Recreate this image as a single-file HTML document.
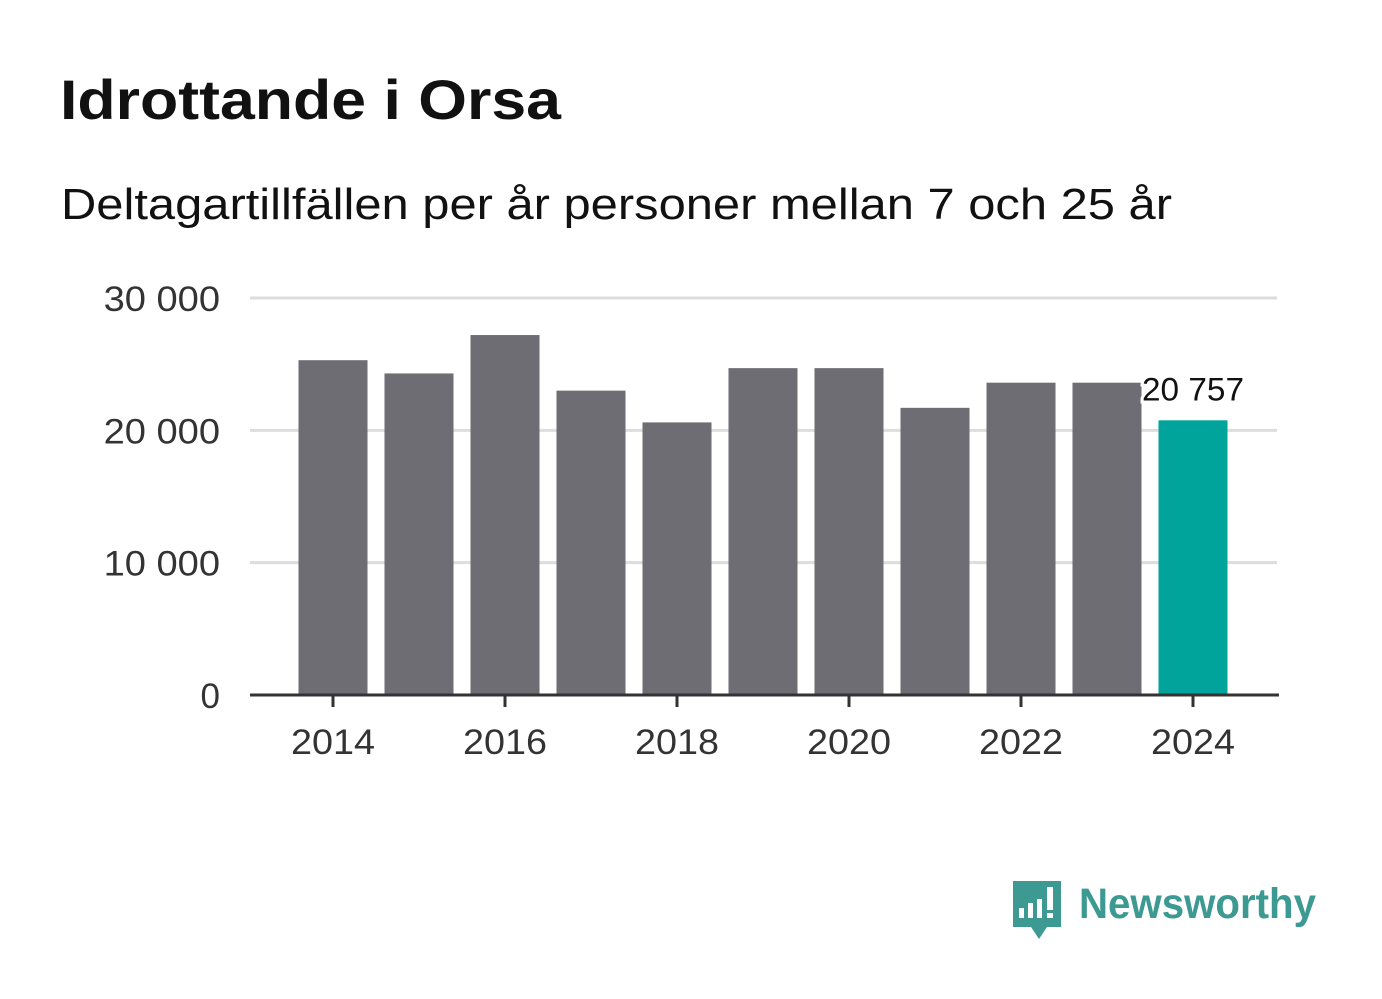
<!DOCTYPE html>
<html><head><meta charset="utf-8"><style>
body{margin:0;width:1382px;height:999px;background:#fff;overflow:hidden;font-family:"Liberation Sans","DejaVu Sans",sans-serif}
svg{position:absolute;left:0;top:0}
</style></head><body>
<svg id="chart" width="1382" height="999">
<text x="60" y="119" font-size="56" font-weight="bold" fill="#111" textLength="501" lengthAdjust="spacingAndGlyphs">Idrottande i Orsa</text>
<text x="61" y="219" font-size="44" fill="#111" textLength="1111" lengthAdjust="spacingAndGlyphs">Deltagartillfällen per år personer mellan 7 och 25 år</text>
<g id="grid"></g><g id="bars"></g><g id="axis"></g>
<g>
<path d="M1013 881h48v46h-14l-8 12-8-12h-18z" fill="#3c9a92"/>
<rect x="1019" y="908" width="5" height="10" fill="#fff"/><rect x="1028" y="903" width="5" height="15" fill="#fff"/><rect x="1037" y="899" width="5" height="19" fill="#fff"/><rect x="1047" y="887" width="6" height="23" fill="#fff"/><rect x="1047" y="913" width="6" height="5" fill="#fff"/>
<text x="1079" y="918" font-size="43" font-weight="bold" fill="#3c9a92" textLength="237" lengthAdjust="spacingAndGlyphs">Newsworthy</text>
</g>
</svg>
<script>
const years=[2014,2015,2016,2017,2018,2019,2020,2021,2022,2023,2024];
const values=[25300,24300,27200,23000,20600,24700,24700,21700,23600,23600,20757];
const yTicks=[0,10000,20000,30000];
const yTickLabels=["0","10 000","20 000","30 000"];
const xTickYears=[2014,2016,2018,2020,2022,2024];
const NS="http://www.w3.org/2000/svg";
const y0=695,yMax=298,vMax=30000;
const y=v=>y0-(v/vMax)*(y0-yMax);
const x=yr=>333+(yr-2014)*86;
const bw=69;
function mk(tag,attrs,parent,txt){const e=document.createElementNS(NS,tag);for(const k in attrs)e.setAttribute(k,attrs[k]);if(txt!=null)e.textContent=txt;document.getElementById(parent).appendChild(e);return e;}
yTicks.forEach((t,i)=>{
 if(t>0){const l=mk('line',{x1:250,x2:1277,y1:y(t),y2:y(t),stroke:'#ddd','stroke-width':3},'grid');
 
 }
 const attrs={x:220,y:y(t)+13,'text-anchor':'end','font-size':35,fill:'#333'};
 if(yTickLabels[i].length>1){attrs.textLength=yTickLabels[i].length*19.4;attrs.lengthAdjust='spacingAndGlyphs';}
 const tx=mk('text',attrs,'axis',yTickLabels[i]);
 
 
});
years.forEach((yr,i)=>{
 const r=mk('rect',{x:x(yr)-bw/2,y:y(values[i]),width:bw,height:y0-y(values[i]),fill:yr===2024?'#00a49a':'#6e6d73'},'bars');
 
 
});
const last=values.length-1;
const lb=mk('text',{x:x(years[last])-51,y:y(values[last])-20,'font-size':32,fill:'#111',stroke:'#fff','stroke-width':6,'paint-order':'stroke',textLength:102,lengthAdjust:'spacingAndGlyphs'},'bars',values[last].toLocaleString('sv-SE').replace(/\u00a0/g,' '));


const base=mk('line',{x1:250,x2:1279,y1:y0,y2:y0,stroke:'#333','stroke-width':3},'axis');


xTickYears.forEach(yr=>{
 const tk=mk('line',{x1:x(yr),x2:x(yr),y1:y0,y2:y0+12,stroke:'#333','stroke-width':3},'axis');
 
 
 const t=mk('text',{x:x(yr),y:754,'text-anchor':'middle','font-size':35,fill:'#333',textLength:84,lengthAdjust:'spacingAndGlyphs'},'axis',yr);
 
 
});
</script>
</body></html>
